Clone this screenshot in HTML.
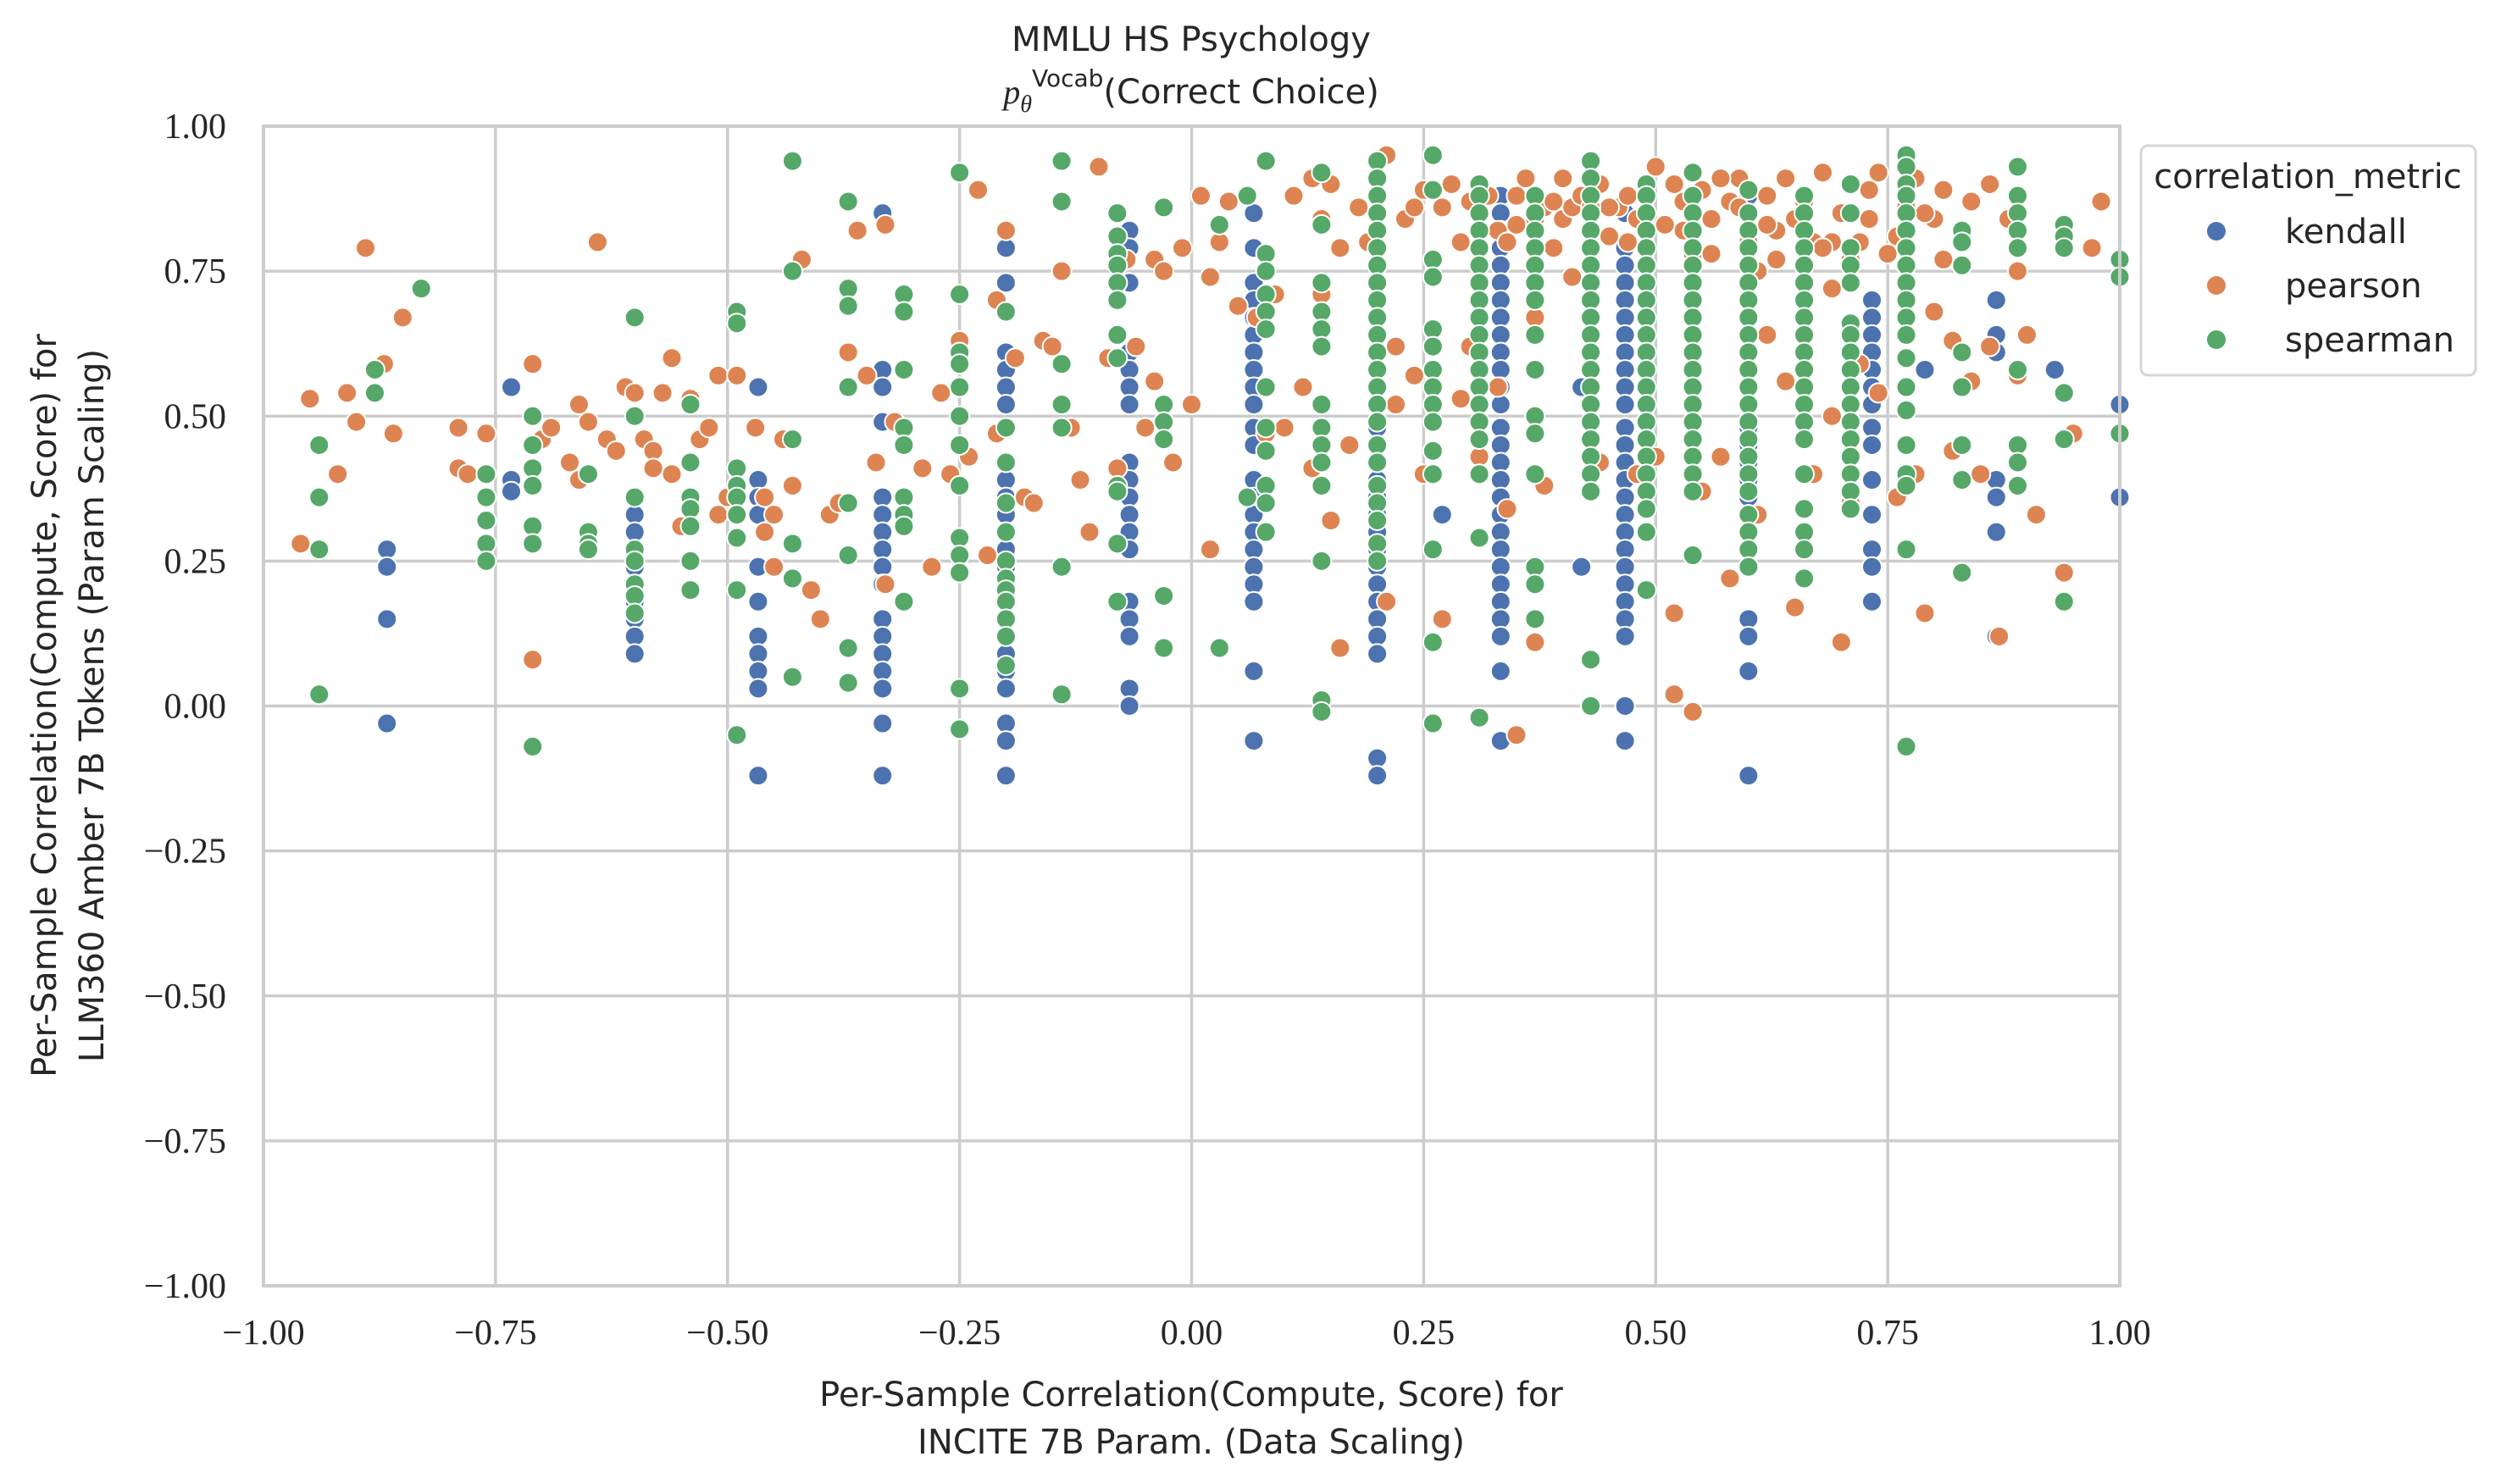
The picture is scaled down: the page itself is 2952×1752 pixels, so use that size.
<!DOCTYPE html>
<html><head><meta charset="utf-8">
<style>
html,body{margin:0;padding:0;background:#fff;}
svg{display:block;}
.tick{font-family:"Liberation Serif",serif;font-size:42px;fill:#262626;}
.lab{font-family:"DejaVu Sans","Liberation Sans",sans-serif;font-size:40px;fill:#262626;}
</style></head>
<body>
<svg id="chart" width="2952" height="1752" viewBox="0 0 2952 1752" xmlns="http://www.w3.org/2000/svg">
  <rect x="0" y="0" width="2952" height="1752" fill="#fff"/>
  <g id="grid"></g>
  <g id="marks"></g>
  <rect x="311" y="149" width="2191" height="1369" fill="none" stroke="#cccccc" stroke-width="4"/>
  <g id="ticks"></g>
  <text class="lab" x="1406" y="60" text-anchor="middle">MMLU HS Psychology</text>
  <text class="lab" x="1406" y="122" text-anchor="middle"><tspan font-family="Liberation Serif,serif" font-style="italic">p</tspan><tspan font-family="Liberation Serif,serif" font-style="italic" font-size="28" dy="10">θ</tspan><tspan font-size="28" dy="-30">Vocab</tspan><tspan dy="20">(Correct Choice)</tspan></text>
  <text class="lab" x="1406" y="1660" text-anchor="middle">Per-Sample Correlation(Compute, Score) for</text>
  <text class="lab" x="1406" y="1716" text-anchor="middle">INCITE 7B Param. (Data Scaling)</text>
  <g transform="translate(66,833) rotate(-90)">
    <text class="lab" x="0" y="0" text-anchor="middle">Per-Sample Correlation(Compute, Score) for</text>
    <text class="lab" x="0" y="56" text-anchor="middle">LLM360 Amber 7B Tokens (Param Scaling)</text>
  </g>
  <g>
    <rect x="2527" y="172" width="395" height="271" rx="8" fill="#fff" stroke="#d6d6d6" stroke-width="3"/>
    <text class="lab" x="2724" y="222" text-anchor="middle">correlation_metric</text>
    <circle cx="2616" cy="273" r="11" fill="#4C72B0"/>
    <text class="lab" x="2697" y="287">kendall</text>
    <circle cx="2616" cy="337" r="11" fill="#DD8452"/>
    <text class="lab" x="2697" y="351">pearson</text>
    <circle cx="2616" cy="401" r="11" fill="#55A868"/>
    <text class="lab" x="2697" y="415">spearman</text>
  </g>
</svg>
<script>
const xTicks = [-1, -0.75, -0.5, -0.25, 0, 0.25, 0.5, 0.75, 1];
const yTicks = [-1, -0.75, -0.5, -0.25, 0, 0.25, 0.5, 0.75, 1];
const xTickLabels = ["\u22121.00","\u22120.75","\u22120.50","\u22120.25","0.00","0.25","0.50","0.75","1.00"];
const yTickLabels = ["\u22121.00","\u22120.75","\u22120.50","\u22120.25","0.00","0.25","0.50","0.75","1.00"];

// kendall: column x values and y values per column
const kendallX = [-0.867,-0.733,-0.6,-0.467,-0.333,-0.2,-0.067,0.067,0.2,0.333,0.467,0.6,0.733,0.867,1.0];
const kendallY = [
 [0.27,0.24,0.15,-0.03],
 [0.55,0.39,0.37],
 [0.33,0.30,0.27,0.24,0.21,0.18,0.15,0.12,0.09],
 [0.55,0.39,0.36,0.33,0.24,0.18,0.12,0.09,0.06,0.03,-0.12],
 [0.85,0.58,0.55,0.49,0.36,0.33,0.30,0.27,0.24,0.21,0.15,0.12,0.09,0.06,0.03,-0.03,-0.12],
 [0.79,0.73,0.61,0.58,0.55,0.52,0.39,0.36,0.33,0.30,0.27,0.24,0.21,0.18,0.15,0.12,0.09,0.06,0.03,-0.03,-0.06,-0.12],
 [0.82,0.79,0.73,0.61,0.58,0.55,0.52,0.42,0.39,0.36,0.33,0.30,0.27,0.18,0.15,0.12,0.03,0.00],
 [0.85,0.79,0.73,0.70,0.67,0.64,0.61,0.58,0.55,0.52,0.48,0.45,0.39,0.36,0.33,0.30,0.27,0.24,0.21,0.18,0.06,-0.06],
 [0.88,0.85,0.82,0.79,0.76,0.73,0.70,0.67,0.64,0.61,0.58,0.55,0.52,0.48,0.45,0.42,0.39,0.36,0.33,0.30,0.27,0.24,0.21,0.18,0.15,0.12,0.09,-0.09,-0.12],
 [0.88,0.85,0.82,0.79,0.76,0.73,0.70,0.67,0.64,0.61,0.58,0.55,0.52,0.48,0.45,0.42,0.39,0.36,0.33,0.30,0.27,0.24,0.21,0.18,0.15,0.12,0.06,-0.06],
 [0.85,0.79,0.76,0.73,0.70,0.67,0.64,0.61,0.58,0.55,0.52,0.48,0.45,0.42,0.39,0.36,0.33,0.30,0.27,0.24,0.21,0.18,0.15,0.12,0.00,-0.06],
 [0.88,0.85,0.82,0.79,0.76,0.73,0.70,0.67,0.64,0.61,0.58,0.55,0.52,0.48,0.45,0.42,0.39,0.36,0.33,0.30,0.24,0.15,0.12,0.06,-0.12],
 [0.70,0.67,0.64,0.61,0.58,0.55,0.52,0.48,0.45,0.39,0.33,0.27,0.24,0.18],
 [0.70,0.64,0.61,0.39,0.36,0.30,0.12],
 [0.52,0.36]
];
const kendallExtraX = [0.27,0.42,0.42,0.79,0.93];
const kendallExtraY = [0.33,0.24,0.55,0.58,0.58];

// pearson scattered points
const pearsonX = [-0.96,-0.95,-0.92,-0.91,-0.90,-0.89,-0.87,-0.86,-0.85,-0.79,-0.79,-0.78,-0.76,-0.71,-0.71,-0.70,-0.69,-0.67,-0.66,-0.66,-0.65,-0.64,-0.63,-0.62,-0.61,-0.60,-0.59,-0.58,-0.58,-0.57,-0.56,-0.56,-0.55,-0.54,-0.53,-0.52,-0.51,-0.51,-0.50,-0.49,-0.47,-0.46,-0.46,-0.45,-0.45,-0.44,-0.43,-0.42,-0.41,-0.40,-0.39,-0.38,-0.37,-0.36,-0.35,-0.34,-0.33,-0.33,-0.32,-0.29,-0.28,-0.27,-0.26,-0.25,-0.25,-0.24,-0.23,-0.22,-0.21,-0.21,-0.20,-0.19,-0.18,-0.17,-0.16,-0.15,-0.14,-0.13,-0.12,-0.11,-0.10,-0.09,-0.08,-0.07,-0.06,-0.05,-0.04,-0.04,-0.03,-0.02,-0.01,0.00,0.01,0.02,0.02,0.03,0.04,0.05,0.06,0.07,0.08,0.09,0.10,0.11,0.12,0.13,0.13,0.14,0.14,0.15,0.15,0.16,0.16,0.17,0.18,0.19,0.21,0.21,0.22,0.22,0.23,0.24,0.24,0.25,0.25,0.26,0.27,0.27,0.28,0.29,0.29,0.30,0.30,0.31,0.32,0.33,0.33,0.34,0.35,0.35,0.36,0.37,0.37,0.38,0.38,0.39,0.40,0.40,0.41,0.41,0.42,0.43,0.44,0.44,0.45,0.46,0.47,0.48,0.48,0.49,0.50,0.50,0.51,0.52,0.52,0.52,0.53,0.54,0.54,0.55,0.55,0.56,0.57,0.58,0.58,0.59,0.60,0.61,0.62,0.62,0.63,0.64,0.64,0.65,0.65,0.66,0.67,0.67,0.68,0.69,0.69,0.70,0.70,0.71,0.72,0.72,0.73,0.74,0.74,0.75,0.76,0.77,0.78,0.78,0.79,0.80,0.80,0.81,0.82,0.82,0.83,0.84,0.84,0.85,0.86,0.86,0.87,0.88,0.89,0.89,0.90,0.91,0.94,0.95,0.97,0.98,
 0.31,0.34,0.37,0.39,0.45,0.47,0.53,0.56,0.59,0.61,0.63,0.66,0.69,0.71,0.73,0.76,0.79,0.81,0.57,0.62,0.68,0.35,0.43];
const pearsonY = [0.28,0.53,0.40,0.54,0.49,0.79,0.59,0.47,0.67,0.48,0.41,0.40,0.47,0.59,0.08,0.46,0.48,0.42,0.52,0.39,0.49,0.80,0.46,0.44,0.55,0.54,0.46,0.44,0.41,0.54,0.60,0.40,0.31,0.53,0.46,0.48,0.57,0.33,0.36,0.57,0.48,0.36,0.30,0.33,0.24,0.46,0.38,0.77,0.20,0.15,0.33,0.35,0.61,0.82,0.57,0.42,0.83,0.21,0.49,0.41,0.24,0.54,0.40,0.63,0.59,0.43,0.89,0.26,0.70,0.47,0.82,0.60,0.36,0.35,0.63,0.62,0.75,0.48,0.39,0.30,0.93,0.60,0.41,0.77,0.62,0.48,0.56,0.77,0.75,0.42,0.79,0.52,0.88,0.74,0.27,0.80,0.87,0.69,0.88,0.67,0.47,0.71,0.48,0.88,0.55,0.41,0.91,0.84,0.71,0.32,0.90,0.10,0.79,0.45,0.86,0.80,0.95,0.18,0.52,0.62,0.84,0.57,0.86,0.40,0.89,0.62,0.15,0.86,0.90,0.53,0.80,0.62,0.87,0.43,0.88,0.82,0.55,0.34,0.88,-0.05,0.91,0.67,0.11,0.38,0.86,0.79,0.84,0.91,0.74,0.86,0.88,0.82,0.90,0.42,0.81,0.86,0.88,0.40,0.84,0.76,0.93,0.43,0.83,0.90,0.16,0.02,0.87,0.78,-0.01,0.89,0.37,0.84,0.43,0.87,0.22,0.91,0.80,0.33,0.88,0.64,0.77,0.91,0.56,0.84,0.17,0.88,0.40,0.80,0.92,0.72,0.50,0.11,0.85,0.35,0.80,0.59,0.89,0.92,0.54,0.78,0.36,0.86,0.40,0.91,0.16,0.84,0.68,0.89,0.63,0.44,0.80,0.56,0.87,0.40,0.90,0.62,0.12,0.84,0.57,0.75,0.64,0.33,0.23,0.47,0.79,0.87,
 0.85,0.80,0.84,0.87,0.86,0.80,0.82,0.78,0.86,0.75,0.82,0.87,0.80,0.77,0.84,0.81,0.85,0.77,0.91,0.83,0.79,0.83,0.86];

// spearman: columns plus values
const spearmanX = [-0.94,-0.88,-0.83,-0.76,-0.71,-0.65,-0.60,-0.54,-0.49,-0.43,-0.37,-0.31,-0.25,-0.20,-0.14,-0.08,-0.03,0.03,0.06,0.08,0.14,0.2,0.26,0.31,0.37,0.43,0.49,0.54,0.6,0.66,0.71,0.77,0.83,0.89,0.94,1.0];
const spearmanY = [
 [0.45,0.36,0.27,0.02],
 [0.58,0.54],
 [0.72],
 [0.40,0.36,0.32,0.28,0.25],
 [0.50,0.45,0.41,0.38,0.31,0.28,-0.07],
 [0.40,0.30,0.28,0.27],
 [0.67,0.50,0.36,0.27,0.25,0.21,0.19,0.16],
 [0.52,0.42,0.36,0.34,0.31,0.25,0.20],
 [0.68,0.66,0.41,0.38,0.36,0.33,0.29,0.20,-0.05],
 [0.94,0.75,0.46,0.28,0.22,0.05],
 [0.87,0.72,0.69,0.55,0.35,0.26,0.10,0.04],
 [0.71,0.68,0.58,0.48,0.45,0.36,0.33,0.31,0.18],
 [0.92,0.71,0.61,0.59,0.55,0.50,0.45,0.38,0.29,0.26,0.23,0.03,-0.04],
 [0.68,0.48,0.42,0.35,0.30,0.25,0.22,0.20,0.18,0.15,0.12,0.07],
 [0.94,0.87,0.59,0.52,0.48,0.24,0.02],
 [0.85,0.81,0.78,0.76,0.73,0.70,0.64,0.60,0.38,0.37,0.28,0.18],
 [0.86,0.52,0.49,0.46,0.19,0.10],
 [0.83,0.10],
 [0.88,0.36],
 [0.94,0.78,0.75,0.71,0.68,0.65,0.55,0.48,0.44,0.38,0.35,0.30],
 [0.92,0.83,0.73,0.68,0.65,0.62,0.52,0.48,0.45,0.42,0.38,0.25,0.01,-0.01],
 [0.94,0.91,0.88,0.85,0.82,0.79,0.76,0.73,0.70,0.67,0.64,0.61,0.58,0.55,0.52,0.49,0.45,0.42,0.38,0.35,0.32,0.28,0.25],
 [0.95,0.89,0.77,0.74,0.65,0.62,0.58,0.55,0.52,0.49,0.44,0.40,0.27,0.11,-0.03],
 [0.90,0.88,0.85,0.82,0.79,0.76,0.73,0.70,0.67,0.64,0.61,0.58,0.55,0.52,0.49,0.46,0.40,0.29,-0.02],
 [0.88,0.85,0.82,0.79,0.76,0.73,0.70,0.64,0.58,0.50,0.47,0.40,0.24,0.21,0.15],
 [0.94,0.91,0.88,0.85,0.82,0.79,0.76,0.73,0.70,0.67,0.64,0.61,0.58,0.55,0.52,0.49,0.46,0.43,0.40,0.37,0.08,0.00],
 [0.90,0.88,0.85,0.82,0.79,0.76,0.73,0.70,0.67,0.64,0.61,0.58,0.55,0.52,0.49,0.46,0.43,0.40,0.37,0.34,0.30,0.20],
 [0.92,0.88,0.85,0.82,0.79,0.76,0.73,0.70,0.67,0.64,0.61,0.58,0.55,0.52,0.49,0.46,0.43,0.40,0.37,0.26],
 [0.89,0.85,0.82,0.79,0.76,0.73,0.70,0.67,0.64,0.61,0.58,0.55,0.52,0.49,0.46,0.43,0.40,0.37,0.33,0.30,0.27,0.24],
 [0.88,0.85,0.82,0.79,0.76,0.73,0.70,0.67,0.64,0.61,0.58,0.55,0.52,0.49,0.46,0.40,0.34,0.30,0.27,0.22],
 [0.90,0.85,0.79,0.76,0.73,0.66,0.64,0.61,0.58,0.55,0.52,0.49,0.46,0.43,0.40,0.37,0.34],
 [0.95,0.93,0.90,0.88,0.85,0.82,0.79,0.76,0.73,0.70,0.67,0.64,0.60,0.55,0.51,0.45,0.40,0.38,0.27,-0.07],
 [0.82,0.80,0.76,0.61,0.55,0.45,0.39,0.23],
 [0.93,0.88,0.85,0.82,0.79,0.58,0.45,0.42,0.38],
 [0.83,0.81,0.79,0.54,0.46,0.18],
 [0.77,0.74,0.47]
];

const PL = 311, PR = 2502, PT = 149, PB = 1518;
const NS = "http://www.w3.org/2000/svg";
function xScale(v){ return PL + (v + 1) / 2 * (PR - PL); }
function yScale(v){ return PB - (v + 1) / 2 * (PB - PT); }

const grid = document.getElementById('grid');
const ticks = document.getElementById('ticks');
xTicks.forEach((t, i) => {
  const l = document.createElementNS(NS, 'line');
  l.setAttribute('x1', xScale(t)); l.setAttribute('x2', xScale(t));
  l.setAttribute('y1', PT); l.setAttribute('y2', PB);
  l.setAttribute('stroke', '#cccccc'); l.setAttribute('stroke-width', '3.5');
  
  
  grid.appendChild(l);
  const tx = document.createElementNS(NS, 'text');
  tx.setAttribute('x', xScale(t)); tx.setAttribute('y', 1587);
  tx.setAttribute('text-anchor', 'middle'); tx.setAttribute('class', 'tick');
  tx.textContent = xTickLabels[i];
  
  
  ticks.appendChild(tx);
});
yTicks.forEach((t, i) => {
  const l = document.createElementNS(NS, 'line');
  l.setAttribute('x1', PL); l.setAttribute('x2', PR);
  l.setAttribute('y1', yScale(t)); l.setAttribute('y2', yScale(t));
  l.setAttribute('stroke', '#cccccc'); l.setAttribute('stroke-width', '3.5');
  
  
  grid.appendChild(l);
  const tx = document.createElementNS(NS, 'text');
  tx.setAttribute('x', 267); tx.setAttribute('y', yScale(t) + 14);
  tx.setAttribute('text-anchor', 'end'); tx.setAttribute('class', 'tick');
  tx.textContent = yTickLabels[i];
  
  
  ticks.appendChild(tx);
});

const marks = document.getElementById('marks');
function dot(x, y, color, name){
  const c = document.createElementNS(NS, 'circle');
  c.setAttribute('cx', xScale(x)); c.setAttribute('cy', yScale(y));
  c.setAttribute('r', 11.5); c.setAttribute('fill', color);
  c.setAttribute('stroke', '#ffffff'); c.setAttribute('stroke-width', '2');
  
  
  marks.appendChild(c);
}
kendallX.forEach((x, i) => kendallY[i].forEach(y => dot(x, y, '#4C72B0', 'point-kendall')));
kendallExtraX.forEach((x, i) => dot(x, kendallExtraY[i], '#4C72B0', 'point-kendall'));
pearsonX.forEach((x, i) => dot(x, pearsonY[i], '#DD8452', 'point-pearson'));
spearmanX.forEach((x, i) => spearmanY[i].forEach(y => dot(x, y, '#55A868', 'point-spearman')));
</script>
</body></html>
